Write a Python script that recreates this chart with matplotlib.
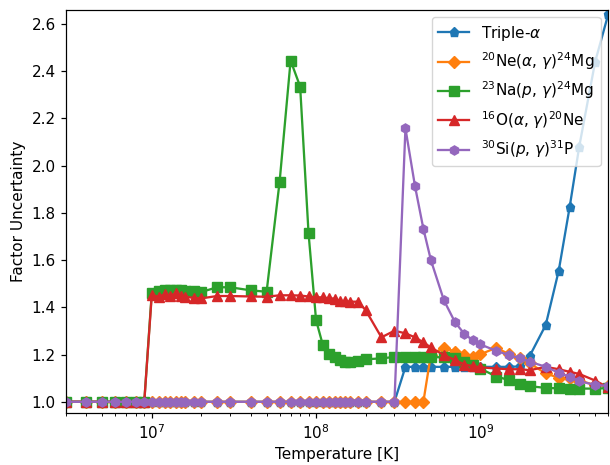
#Factor uncertainty of several reaction rates versus temperature.

import matplotlib
matplotlib.use("Agg")
import matplotlib.pyplot as plt
import numpy as np

#Temperature grid in units of 1e9 K.
t9 = [0.003, 0.004, 0.005, 0.006, 0.007, 0.008, 0.009, 0.010, 0.011, 0.012,
      0.013, 0.014, 0.015, 0.016, 0.018, 0.020, 0.025, 0.030, 0.040, 0.050,
      0.060, 0.070, 0.080, 0.090, 0.100, 0.110, 0.120, 0.130, 0.140, 0.150,
      0.160, 0.180, 0.200, 0.250, 0.300, 0.350, 0.400, 0.450, 0.500, 0.600,
      0.700, 0.800, 0.900, 1.000, 1.250, 1.500, 1.750, 2.000, 2.500, 3.000,
      3.500, 4.000, 5.000, 6.000]

#Factor uncertainty for each rate.
triple_alpha = [1.0, 1.0, 1.0, 1.0, 1.0, 1.0, 1.0, 1.0, 1.0, 1.0,
                1.0, 1.0, 1.0, 1.0, 1.0, 1.0, 1.0, 1.0, 1.0, 1.0,
                1.0, 1.0, 1.0, 1.0, 1.0, 1.0, 1.0, 1.0, 1.0, 1.0,
                1.0, 1.0, 1.0, 1.0, 1.0, 1.148, 1.148, 1.148, 1.148, 1.148,
                1.148, 1.148, 1.148, 1.148, 1.148, 1.148, 1.15, 1.195, 1.325, 1.555,
                1.826, 2.081, 2.44, 2.64]

ne20_ag = [1.0, 1.0, 1.0, 1.0, 1.0, 1.0, 1.0, 1.0, 1.0, 1.0,
           1.0, 1.0, 1.0, 1.0, 1.0, 1.0, 1.0, 1.0, 1.0, 1.0,
           1.0, 1.0, 1.0, 1.0, 1.0, 1.0, 1.0, 1.0, 1.0, 1.0,
           1.0, 1.0, 1.0, 1.0, 1.0, 1.0, 1.0, 1.0, 1.20, 1.229,
           1.213, 1.200, 1.191, 1.201, 1.229, 1.201, 1.184, 1.163, 1.120, 1.102,
           1.099, 1.090, 1.071, 1.068]

na23_pg = [1.0, 1.0, 1.0, 1.0, 1.0, 1.0, 1.0, 1.462, 1.468, 1.472,
           1.474, 1.475, 1.472, 1.468, 1.470, 1.465, 1.485, 1.485, 1.472, 1.466,
           1.932, 2.445, 2.335, 1.714, 1.346, 1.240, 1.202, 1.188, 1.177, 1.170,
           1.167, 1.174, 1.180, 1.184, 1.190, 1.190, 1.190, 1.190, 1.190, 1.188,
           1.185, 1.170, 1.155, 1.141, 1.107, 1.092, 1.076, 1.066, 1.059, 1.057,
           1.056, 1.056, 1.056, 1.058]

o16_ag = [1.0, 1.0, 1.0, 1.0, 1.0, 1.0, 1.0, 1.452, 1.445, 1.455,
          1.448, 1.460, 1.450, 1.445, 1.440, 1.438, 1.448, 1.448, 1.446, 1.445,
          1.451, 1.451, 1.450, 1.446, 1.443, 1.442, 1.438, 1.437, 1.426, 1.425,
          1.424, 1.424, 1.389, 1.273, 1.301, 1.290, 1.273, 1.252, 1.230, 1.198,
          1.177, 1.158, 1.151, 1.146, 1.141, 1.138, 1.138, 1.134, 1.148, 1.138,
          1.127, 1.118, 1.090, 1.061]

si30_pg = [1.0, 1.0, 1.0, 1.0, 1.0, 1.0, 1.0, 1.0, 1.0, 1.0,
           1.0, 1.0, 1.0, 1.0, 1.0, 1.0, 1.0, 1.0, 1.0, 1.0,
           1.0, 1.0, 1.0, 1.0, 1.0, 1.0, 1.0, 1.0, 1.0, 1.0,
           1.0, 1.0, 1.0, 1.0, 1.0, 2.158, 1.914, 1.733, 1.600, 1.430,
           1.338, 1.287, 1.261, 1.243, 1.216, 1.197, 1.184, 1.170, 1.148, 1.123,
           1.106, 1.088, 1.071, 1.068]

labels = [r"Triple-$\alpha$",
          r"$^{20}$Ne($\alpha$, $\gamma$)$^{24}$Mg",
          r"$^{23}$Na($p$, $\gamma$)$^{24}$Mg",
          r"$^{16}$O($\alpha$, $\gamma$)$^{20}$Ne",
          r"$^{30}$Si($p$, $\gamma$)$^{31}$P"]

#The original looks like a default figure drawn about 10% larger.
s = 1.1
plt.rcParams.update({
    'font.size': 10 * s,
    'lines.linewidth': 1.5 * s,
    'lines.markersize': 6 * s,
    'axes.linewidth': 0.8 * s,
    'xtick.major.size': 3.5 * s,
    'ytick.major.size': 3.5 * s,
    'xtick.minor.size': 2 * s,
    'xtick.major.width': 0.8 * s,
    'ytick.major.width': 0.8 * s,
    'xtick.minor.width': 0.6 * s,
})

T = np.array(t9) * 1e9

fig = plt.figure(figsize=(6.1, 4.65), dpi=100)
ax = fig.add_axes([0.108, 0.112, 0.889, 0.867])

ax.plot(T, triple_alpha, marker='p', color='tab:blue', label=labels[0])
ax.plot(T, ne20_ag, marker='D', color='tab:orange', label=labels[1])
ax.plot(T, na23_pg, marker='s', color='tab:green', label=labels[2])
ax.plot(T, o16_ag, marker='^', color='tab:red', label=labels[3])
ax.plot(T, si30_pg, marker='h', color='tab:purple', label=labels[4])

ax.set_xscale('log')
ax.set_xlim(3e6, 6e9)
ax.set_ylim(0.953, 2.66)
ax.set_xlabel("Temperature [K]")
ax.set_ylabel("Factor Uncertainty")
ax.legend(loc='upper right')

fig.savefig("out.png", dpi=100)
